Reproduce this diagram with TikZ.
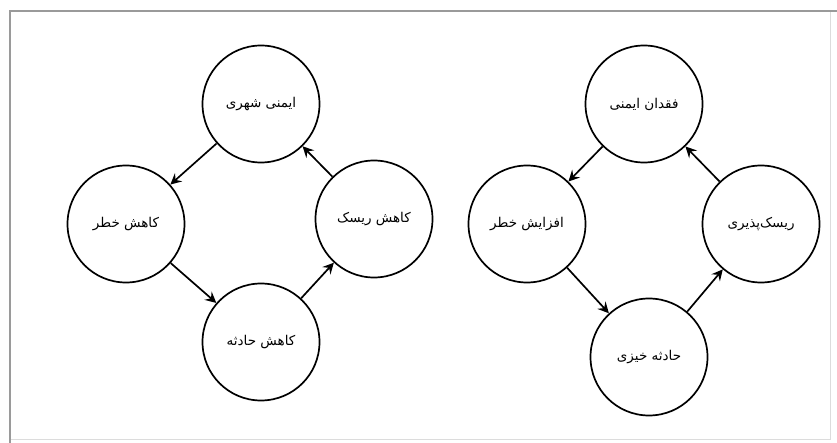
\documentclass[tikz,border=0pt]{standalone}
\usepackage{fontspec}
\usepackage{tikz}
\usetikzlibrary{arrows.meta,positioning}
\TeXXeTstate=1
\newfontfamily\arabicfont[Script=Arabic]{DejaVu Sans}
\definecolor{framegray}{HTML}{9A9A9A}

\begin{document}
\begin{tikzpicture}[x=1pt, y=-1pt,
  state/.style={draw, circle, line width=1.7pt, minimum size=117pt, inner sep=0pt,
    font=\arabicfont\fontsize{13.5}{16}\selectfont},
  flow/.style={-{Stealth[length=11pt, width=11pt, inset=4pt]}, line width=1.7pt}
]
  \useasboundingbox (0,0) rectangle (837,443);

  % frame
  \draw[framegray!35, line width=1pt] (830,11) -- (830,439) -- (10,439);
  \draw[framegray, line width=2pt] (10,443) -- (10,11) -- (837,11);

  % left cycle
  \node[state] (ls) at (261,104) {\beginR ایمنی شهری\endR};
  \node[state] (lw) at (126,224) {\beginR کاهش خطر\endR};
  \node[state] (lb) at (261,342) {\beginR کاهش حادثه\endR};
  \node[state] (le) at (374,219) {\beginR کاهش ریسک\endR};

  \draw[flow] (ls) -- (lw);
  \draw[flow] (lw) -- (lb);
  \draw[flow] (lb) -- (le);
  \draw[flow] (le) -- (ls);

  % right cycle
  \node[state] (rs) at (644,104) {\beginR فقدان ایمنی\endR};
  \node[state] (rw) at (527,224) {\beginR افزایش خطر\endR};
  \node[state] (rb) at (649,357) {\beginR حادثه خیزی\endR};
  \node[state] (re) at (761,224) {\beginR ریسک‌پذیری\endR};

  \draw[flow] (rs) -- (rw);
  \draw[flow] (rw) -- (rb);
  \draw[flow] (rb) -- (re);
  \draw[flow] (re) -- (rs);

\end{tikzpicture}
\end{document}
